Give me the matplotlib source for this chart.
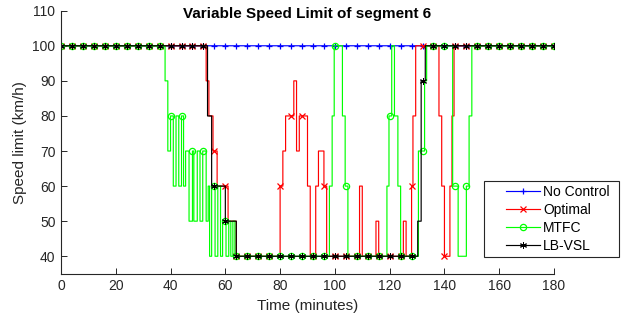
import numpy as np
import matplotlib
matplotlib.use('Agg')
import matplotlib.pyplot as plt
from matplotlib.patches import Rectangle

plt.rcParams['font.family'] = ['Liberation Sans', 'DejaVu Sans']

# ---- data (change points: time in minutes, speed limit in km/h) ----
t_end = 180
dt = 0.25
marker_every_min = 4

nocontrol_t = [0]
nocontrol_v = [100]

optimal_t = [0, 53, 54, 55.5, 57, 61, 64, 80, 81, 82, 85, 86, 87, 90, 91, 93, 94, 96, 97,
             109, 110, 115, 116, 125, 126, 128, 128.5, 129.5, 138, 139, 140, 142, 142.75, 143.5]
optimal_v = [100, 90, 80, 70, 60, 50, 40, 60, 70, 80, 90, 70, 80, 60, 40, 60, 70, 60, 40,
             60, 40, 50, 40, 50, 40, 60, 80, 100, 80, 60, 40, 60, 80, 100]

mtfc_t = [0, 38, 39, 40, 41, 42, 43, 44, 44.75, 45.5, 46.75, 48, 48.5, 49.75, 50.75, 51.75,
          53, 53.75, 54.25, 55, 56.25, 57.25, 58.25, 59, 60.25, 61.25, 62, 62.75, 63.5,
          98, 99, 99.75, 102.75, 103.75, 104.75, 119, 119.75, 120.75, 121.75, 123, 124,
          130.5, 132.75, 133.5, 143, 145, 148, 149, 150]
mtfc_v = [100, 90, 70, 80, 60, 80, 60, 80, 60, 70, 50, 70, 50, 70, 50, 70,
          50, 60, 40, 60, 40, 60, 40, 50, 40, 50, 40, 50, 40,
          60, 80, 100, 80, 60, 40, 60, 80, 100, 80, 60, 40,
          70, 90, 100, 60, 40, 60, 80, 100]

lbvsl_t = [0, 53.5, 55, 60, 64, 130.25, 131.5, 133]
lbvsl_v = [100, 80, 60, 50, 40, 50, 90, 100]

series_names = ['No Control', 'Optimal', 'MTFC', 'LB-VSL']
x_ticks = [0, 20, 40, 60, 80, 100, 120, 140, 160, 180]
y_ticks = [40, 50, 60, 70, 80, 90, 100, 110]

# ---- build sampled step series ----
t = np.arange(0, t_end + dt / 2, dt)

def sample(ct, cv):
    ct = np.asarray(ct, float)
    cv = np.asarray(cv, float)
    idx = np.searchsorted(ct, t, side='right') - 1
    return cv[idx]

series = [
    (sample(nocontrol_t, nocontrol_v), (0, 0, 1), '+', 5, 0.9),
    (sample(optimal_t, optimal_v), (1, 0, 0), 'x', 4, 0.9),
    (sample(mtfc_t, mtfc_v), (0, 1, 0), 'o', 4.5, 0.9),
    (sample(lbvsl_t, lbvsl_v), (0, 0, 0), (6, 2, 0), 5, 0.7),
]

W, H = 641, 325
fig = plt.figure(figsize=(W / 100, H / 100), dpi=100)
ax_l, ax_r, ax_t, ax_b = 61, 554, 10.7, 273.8
ax = fig.add_axes([ax_l / W, 1 - ax_b / H, (ax_r - ax_l) / W, (ax_b - ax_t) / H])

me = int(round(marker_every_min / dt))
handles = []
for (v, c, m, ms, mew), name in zip(series, series_names):
    h, = ax.plot(t, v, drawstyle='steps-post', color=c, lw=0.85,
                 marker=m, markevery=me, markersize=ms,
                 markerfacecolor='none' if m == 'o' else c,
                 markeredgecolor=c, markeredgewidth=mew, label=name)
    handles.append(h)

ax.set_xlim(0, 180)
ax.set_ylim(35, 110)
ax.set_xticks(x_ticks)
ax.set_yticks(y_ticks)
gray = '#262626'
for s in ['top', 'right']:
    ax.spines[s].set_visible(False)
for s in ['left', 'bottom']:
    ax.spines[s].set_color(gray)
    ax.spines[s].set_linewidth(0.8)
ax.tick_params(direction='in', length=4, width=0.7, colors=gray, labelsize=10, pad=4)

ax.set_xlabel('Time (minutes)', fontsize=11, color=gray)
ax.xaxis.set_label_coords(0.5, (ax_b - 306) / (ax_b - ax_t))
ax.xaxis.label.set_va('center')
ax.set_ylabel('Speed limit (km/h)', fontsize=11, color=gray)
ax.yaxis.set_label_coords((20 - ax_l) / (ax_r - ax_l), 0.5)
ax.yaxis.label.set_va('center')

fig.text(((ax_l + ax_r) / 2) / W, 1 - 14 / H, 'Variable Speed Limit of segment 6',
         ha='center', va='center', fontsize=11, fontweight='bold', color='black')

# legend frame drawn separately
lx0, lx1, ly0, ly1 = 484, 619, 181, 257
fig.patches.append(Rectangle((lx0 / W, 1 - ly1 / H), (lx1 - lx0) / W, (ly1 - ly0) / H,
                             transform=fig.transFigure, facecolor='white',
                             edgecolor=gray, linewidth=0.8, zorder=5))
leg = fig.legend(handles=handles, loc='upper left',
                 bbox_to_anchor=(505.7 / W, 1 - 184.5 / H),
                 frameon=False, fontsize=10, borderpad=0, borderaxespad=0,
                 handlelength=2.45, handletextpad=0.25, labelspacing=0.3)
leg.set_zorder(6)
for txt in leg.get_texts():
    txt.set_color('black')

fig.savefig('out.png', dpi=100)
